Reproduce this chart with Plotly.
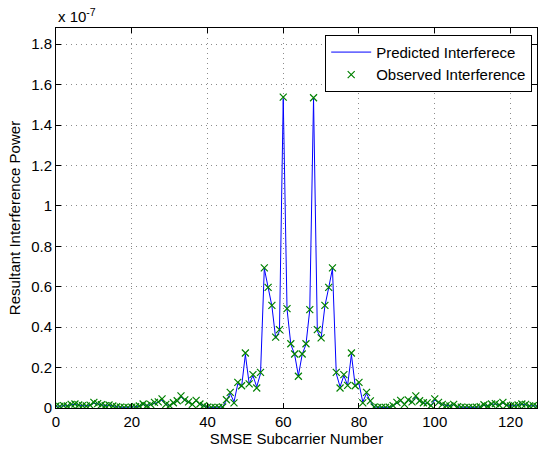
import plotly.graph_objects as go

# Subcarrier index
subcarriers = list(range(0, 128))

# Observed interference power (units of 1e-7)
observed = [
    0.010, 0.008, 0.012, 0.010, 0.018, 0.020, 0.015, 0.012, 0.010, 0.014,
    0.028, 0.022, 0.016, 0.012, 0.015, 0.010, 0.006, 0.004, 0.003, 0.003,
    0.004, 0.006, 0.010, 0.020, 0.012, 0.018, 0.028, 0.030, 0.045, 0.018,
    0.012, 0.026, 0.036, 0.060, 0.040, 0.030, 0.018, 0.038, 0.020, 0.012,
    0.004, 0.003, 0.003, 0.003, 0.005, 0.041, 0.077, 0.025, 0.127, 0.110,
    0.272, 0.119, 0.165, 0.099, 0.176, 0.693, 0.597, 0.508, 0.351, 0.388,
    1.538, 0.492, 0.318, 0.267, 0.157, 0.267, 0.318, 0.487, 1.535, 0.388,
    0.347, 0.508, 0.597, 0.693, 0.176, 0.099, 0.165, 0.112, 0.272, 0.110,
    0.127, 0.025, 0.077, 0.035, 0.005, 0.003, 0.003, 0.003, 0.004, 0.012,
    0.028, 0.038, 0.018, 0.040, 0.030, 0.060, 0.036, 0.026, 0.025, 0.012,
    0.045, 0.028, 0.018, 0.012, 0.010, 0.018, 0.006, 0.004, 0.003, 0.003,
    0.003, 0.004, 0.006, 0.016, 0.010, 0.020, 0.022, 0.015, 0.028, 0.014,
    0.010, 0.012, 0.015, 0.020, 0.018, 0.010, 0.012, 0.008,
]

# Predicted interference power (units of 1e-7)
predicted = [
    0.010, 0.008, 0.012, 0.010, 0.016, 0.018, 0.014, 0.012, 0.010, 0.013,
    0.024, 0.020, 0.015, 0.012, 0.014, 0.010, 0.006, 0.004, 0.003, 0.003,
    0.004, 0.006, 0.010, 0.018, 0.012, 0.017, 0.025, 0.028, 0.040, 0.018,
    0.012, 0.024, 0.034, 0.055, 0.038, 0.028, 0.018, 0.035, 0.019, 0.012,
    0.004, 0.003, 0.003, 0.003, 0.005, 0.038, 0.072, 0.030, 0.120, 0.105,
    0.265, 0.120, 0.160, 0.105, 0.170, 0.690, 0.595, 0.505, 0.345, 0.380,
    1.530, 0.490, 0.315, 0.265, 0.160, 0.265, 0.315, 0.485, 1.530, 0.380,
    0.345, 0.505, 0.595, 0.690, 0.170, 0.105, 0.160, 0.112, 0.265, 0.110,
    0.120, 0.030, 0.072, 0.033, 0.005, 0.003, 0.003, 0.003, 0.004, 0.012,
    0.025, 0.035, 0.018, 0.038, 0.028, 0.055, 0.034, 0.024, 0.023, 0.012,
    0.040, 0.026, 0.017, 0.012, 0.010, 0.017, 0.006, 0.004, 0.003, 0.003,
    0.003, 0.004, 0.006, 0.015, 0.010, 0.018, 0.020, 0.014, 0.025, 0.013,
    0.010, 0.012, 0.014, 0.018, 0.016, 0.010, 0.012, 0.008,
]

x_ticks = [0, 20, 40, 60, 80, 100, 120]
y_ticks = [0, 0.2, 0.4, 0.6, 0.8, 1.0, 1.2, 1.4, 1.6, 1.8]
y_ticklabels = ["0", "0.2", "0.4", "0.6", "0.8", "1", "1.2", "1.4", "1.6", "1.8"]

FONT = "Liberation Sans, Arial, Helvetica, sans-serif"
FS = 15

fig = go.Figure()
fig.add_trace(go.Scatter(
    x=subcarriers, y=predicted, mode="lines", name="Predicted Interferece",
    line=dict(color="#0000ff", width=1),
))
fig.add_trace(go.Scatter(
    x=subcarriers, y=observed, mode="markers", name="Observed Interference",
    marker=dict(symbol="x-thin-open", size=7, color="#008000",
                line=dict(color="#008000", width=1.2)),
))

axis_common = dict(
    showline=True, linecolor="black", linewidth=1, mirror="ticks",
    ticks="inside", ticklen=5, tickcolor="black", tickwidth=1,
    showgrid=True, gridcolor="#8c8c8c", griddash="1px,4px", gridwidth=1,
    zeroline=False, automargin=False,
    tickfont=dict(family=FONT, size=FS, color="black"),
)

fig.update_layout(
    width=538, height=453,
    margin=dict(l=56, r=1, t=28, b=45, autoexpand=False),
    paper_bgcolor="white", plot_bgcolor="white",
    font=dict(family=FONT, size=FS, color="black"),
    showlegend=True,
    legend=dict(
        x=0.99, y=0.982, xanchor="right", yanchor="top",
        bgcolor="white", bordercolor="black", borderwidth=1,
        font=dict(family=FONT, size=FS, color="black"),
        tracegroupgap=0, itemwidth=40,
    ),
    xaxis=dict(range=[0, 127], tickvals=x_ticks,
               title=dict(text="SMSE Subcarrier Number", standoff=2,
                          font=dict(family=FONT, size=FS, color="black")),
               **axis_common),
    yaxis=dict(range=[0, 1.88], tickvals=y_ticks, ticktext=y_ticklabels,
               title=dict(text="Resultant Interference Power", standoff=6,
                          font=dict(family=FONT, size=FS, color="black")),
               **axis_common),
)

fig.add_annotation(
    xref="paper", yref="paper", x=0, y=1, xanchor="left", yanchor="bottom",
    text="x 10<sup>-7</sup>", showarrow=False, yshift=1,
    font=dict(family=FONT, size=FS, color="black"),
)

fig.write_html(
    "out.html",
    config={"displayModeBar": False},
    post_script="document.body.style.margin='0px';document.body.style.overflow='hidden';",
)
